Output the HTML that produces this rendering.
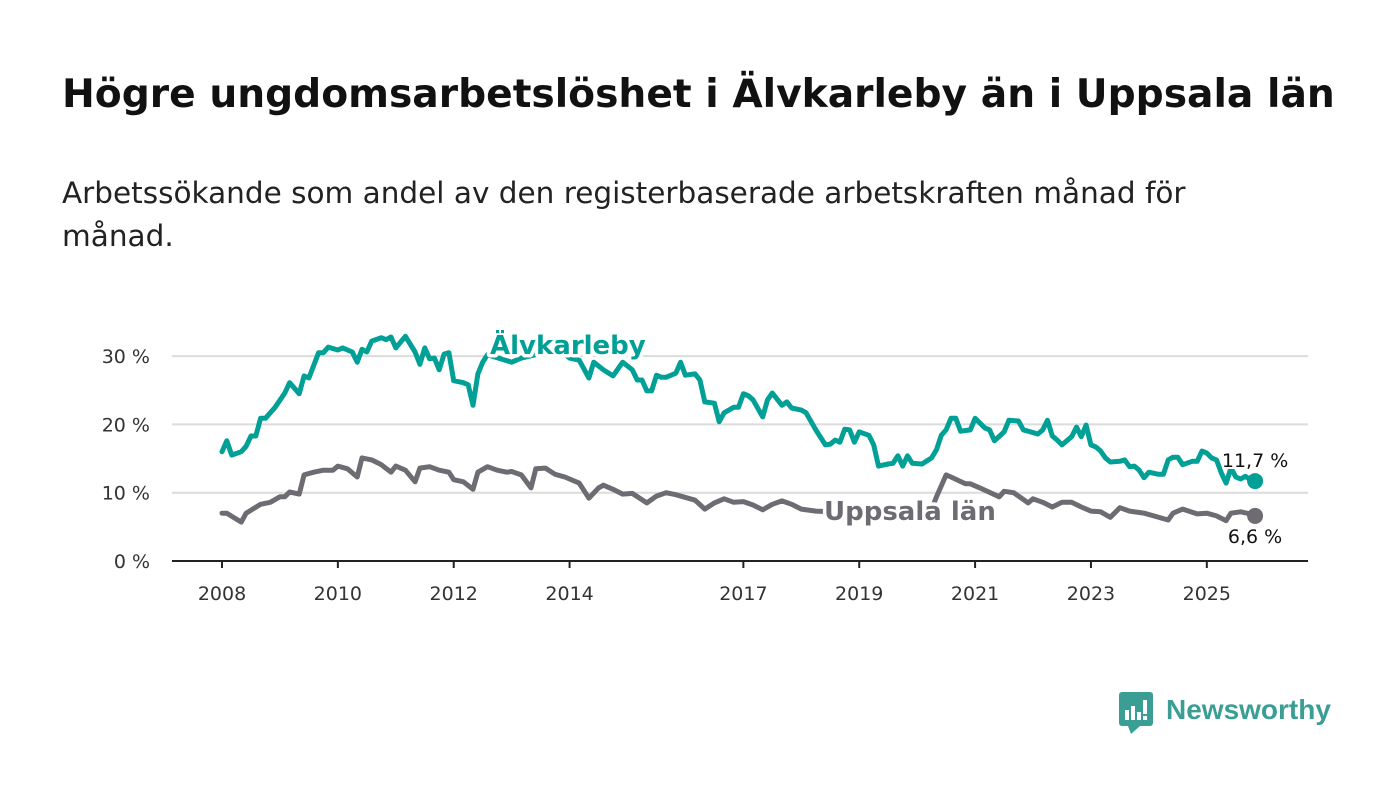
<!DOCTYPE html>
<html><head><meta charset="utf-8">
<style>
html,body{margin:0;padding:0;background:#fff;}
body{width:1400px;height:794px;position:relative;overflow:hidden;font-family:"DejaVu Sans","Liberation Sans",sans-serif;}
h1{position:absolute;left:62px;top:72px;margin:0;font-size:39.2px;font-weight:bold;color:#111;white-space:nowrap;}
.sub{position:absolute;left:62px;top:172px;margin:0;font-size:29.5px;line-height:43px;color:#222;width:1185px;}
svg{position:absolute;left:0;top:0;}
</style></head>
<body>
<h1>Högre ungdomsarbetslöshet i Älvkarleby än i Uppsala län</h1>
<p class="sub">Arbetssökande som andel av den registerbaserade arbetskraften månad för månad.</p>
<svg id="chart" width="1400" height="794"></svg>
<script>
const yTicks=[0,10,20,30];
const yTickLabels=["0 %","10 %","20 %","30 %"];
const xTickYears=[2008,2010,2012,2014,2017,2019,2021,2023,2025];
const alvMonths=[0,1,2,4,5,6,7,8,9,11,13,14,16,17,18,20,21,22,24,25,27,28,29,30,31,33,34,35,36,38,40,41,42,43,44,45,46,47,48,50,51,52,53,54,55,60,62,65,70,72,74,76,77,79,81,83,85,86,87,88,89,90,91,92,94,95,96,98,99,100,102,103,104,106,107,108,109,110,112,113,114,116,117,118,120,121,123,125,126,127,128,129,130,131,132,134,135,136,138,139,140,141,142,143,145,147,148,149,150,151,152,153,155,156,158,159,160,162,163,165,166,167,169,170,171,172,173,174,176,177,178,179,180,181,182,183,184,186,187,188,189,190,191,192,194,195,196,197,198,199,201,202,203,204,205,206,207,208,209,210,211,212,213,214];
const alvValues=[16.0,17.6,15.5,16.0,16.8,18.3,18.3,20.9,20.9,22.5,24.6,26.1,24.5,27.1,26.8,30.5,30.5,31.3,30.9,31.2,30.6,29.1,31.0,30.6,32.2,32.7,32.4,32.8,31.2,32.9,30.6,28.8,31.2,29.6,29.7,28.0,30.3,30.5,26.4,26.1,25.8,22.8,27.4,29.1,30.2,29.1,29.7,30.2,30.9,29.7,29.4,26.8,29.1,28.0,27.1,29.1,28.0,26.5,26.5,24.9,24.9,27.2,26.9,26.9,27.5,29.1,27.2,27.4,26.5,23.3,23.1,20.4,21.7,22.5,22.5,24.5,24.2,23.6,21.1,23.6,24.6,22.8,23.3,22.4,22.1,21.7,19.2,17.0,17.1,17.7,17.4,19.3,19.2,17.4,18.9,18.4,17.0,13.9,14.2,14.3,15.4,13.9,15.4,14.3,14.2,15.1,16.3,18.4,19.2,20.9,20.9,19.0,19.2,20.9,19.5,19.2,17.6,18.9,20.6,20.5,19.2,19.0,18.6,19.2,20.6,18.3,17.7,17.0,18.2,19.6,18.2,19.9,17.0,16.7,16.1,15.1,14.5,14.6,14.8,13.8,13.9,13.3,12.2,13.0,12.7,12.7,14.8,15.2,15.2,14.1,14.6,14.6,16.1,15.8,15.1,14.8,12.9,11.4,13.6,12.3,12.0,12.4,11.9,11.7];
const uppMonths=[0,1,4,5,8,10,12,13,14,16,17,19,21,23,24,26,28,29,31,33,35,36,38,40,41,43,45,47,48,50,52,53,55,57,59,60,62,64,65,67,69,71,74,76,78,79,81,83,85,88,90,92,94,98,100,102,104,106,108,110,112,114,116,118,120,123,130,140,147,148,150,151,154,155,157,161,162,164,167,168,170,172,174,176,178,180,182,184,186,188,191,193,196,197,199,202,204,206,208,209,211,213,214];
const uppValues=[7.0,7.0,5.7,7.0,8.3,8.6,9.4,9.4,10.1,9.8,12.6,13.0,13.3,13.3,13.9,13.5,12.3,15.1,14.8,14.1,13.0,13.9,13.3,11.6,13.6,13.8,13.3,13.0,11.9,11.6,10.5,13.0,13.8,13.3,13.0,13.1,12.6,10.7,13.5,13.6,12.7,12.3,11.4,9.2,10.7,11.1,10.5,9.8,9.9,8.5,9.5,10.0,9.7,8.9,7.6,8.5,9.1,8.6,8.7,8.2,7.5,8.3,8.8,8.3,7.6,7.3,7.1,6.9,7.6,9.4,12.6,12.3,11.3,11.3,10.7,9.4,10.2,10.0,8.5,9.1,8.6,7.9,8.6,8.6,7.9,7.3,7.2,6.4,7.8,7.3,7.0,6.6,6.0,7.0,7.6,6.9,7.0,6.6,5.9,7.0,7.2,6.9,6.6];
const endLabels=["11,7 %","6,6 %"];

const NS="http://www.w3.org/2000/svg";
const svg=document.getElementById('chart');
const X0=222,PXY=57.93,Y0=561,PXV=6.83,LEFT=172,RIGHT=1308;
const xm=m=>X0+m*PXY/12;
const xy=y=>X0+(y-2008)*PXY;
const yv=v=>Y0-v*PXV;
function mk(tag,attrs,parent){const e=document.createElementNS(NS,tag);for(const k in attrs)e.setAttribute(k,attrs[k]);(parent||svg).appendChild(e);return e;}
const FONT='"DejaVu Sans","Liberation Sans",sans-serif';
yTicks.forEach((t,i)=>{
  if(t>0){const g=mk('line',{x1:LEFT,x2:RIGHT,y1:yv(t),y2:yv(t),stroke:'#dcdcdc','stroke-width':2});
  
  }
  const l=mk('text',{x:150,y:yv(t)+7,'text-anchor':'end','font-size':19,fill:'#333','font-family':FONT});
  l.textContent=yTickLabels[i];
  
  
});
const ax=mk('line',{x1:LEFT,x2:RIGHT,y1:Y0,y2:Y0,stroke:'#222','stroke-width':2});


xTickYears.forEach(yr=>{
  const tk=mk('line',{x1:xy(yr),x2:xy(yr),y1:Y0,y2:Y0+7,stroke:'#222','stroke-width':2});
  
  
  const l=mk('text',{x:xy(yr),y:600,'text-anchor':'middle','font-size':19,fill:'#333','font-family':FONT});
  l.textContent=yr;
  
  
});
function series(months,vals,color,name){
  const d=months.map((m,i)=>(i?'L':'M')+xm(m).toFixed(1)+','+yv(vals[i]).toFixed(1)).join('');
  const p=mk('path',{d:d,fill:'none',stroke:color,'stroke-width':5,'stroke-linejoin':'round','stroke-linecap':'round'});
  
  
  const n=months.length-1;
  const c=mk('circle',{cx:xm(months[n]),cy:yv(vals[n]),r:8,fill:color});
  
  
}
series(uppMonths,uppValues,'#6e6c72','uppsala');
series(alvMonths,alvValues,'#00a096','alvkarleby');
function label(txt,x,y,color,name){
  const t=mk('text',{x:x,y:y,'font-size':26,'font-weight':'bold',fill:color,stroke:'#fff','stroke-width':7,'paint-order':'stroke','stroke-linejoin':'round','font-family':FONT});
  t.textContent=txt;
  
  
}
label('Älvkarleby',490,354,'#00a096','alvkarleby-label');
label('Uppsala län',824,520,'#6e6c72','uppsala-label');
const e1=mk('text',{x:xm(alvMonths[alvMonths.length-1]),y:467,'text-anchor':'middle','font-size':19,fill:'#111',stroke:'#fff','stroke-width':4,'paint-order':'stroke','font-family':FONT});
e1.textContent=endLabels[0];


const e2=mk('text',{x:xm(uppMonths[uppMonths.length-1]),y:543,'text-anchor':'middle','font-size':19,fill:'#111','font-family':FONT});
e2.textContent=endLabels[1];


</script>
<svg width="1400" height="794" style="pointer-events:none">
  <g>
    <rect x="1119" y="692" width="34" height="34" rx="3" fill="#3a9e95"/>
    <polygon points="1128,726 1140,726 1131,734" fill="#3a9e95"/>
    <rect x="1125" y="710" width="4" height="10" fill="#fff"/>
    <rect x="1131" y="706" width="4" height="14" fill="#fff"/>
    <rect x="1137" y="712" width="4" height="8" fill="#fff"/>
    <rect x="1143" y="700" width="4" height="14" fill="#fff"/>
    <rect x="1143" y="716" width="4" height="4" fill="#fff"/>
  </g>
  <text x="1166" y="719" font-size="28" font-weight="bold" fill="#3a9e95" font-family='"Liberation Sans",sans-serif'>Newsworthy</text>
</svg>
</body></html>
